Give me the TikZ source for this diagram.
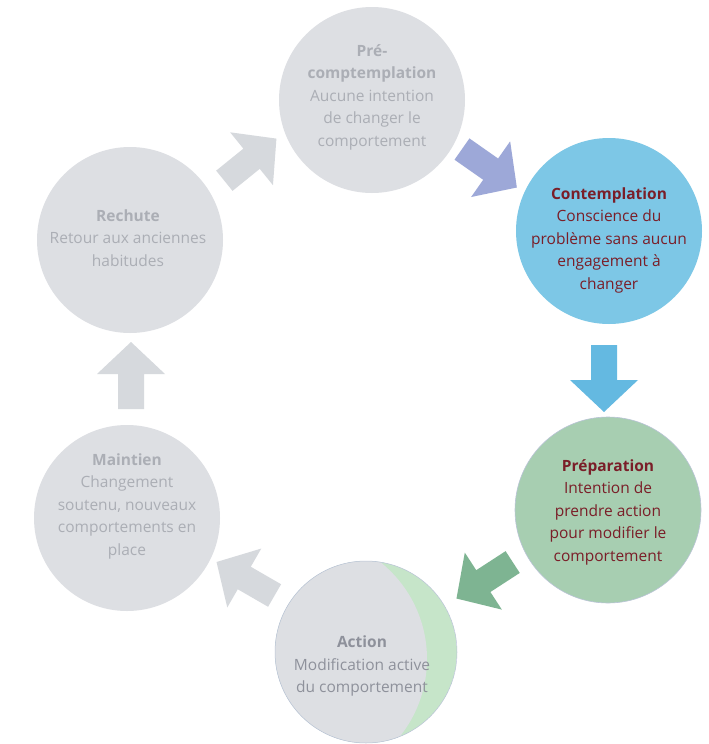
\documentclass[tikz,border=0pt]{standalone}
\usepackage{fontspec}
\setmainfont{Open Sans}
\definecolor{graycirc}{HTML}{DDDFE3}
\definecolor{grayarr}{HTML}{D6D9DD}
\definecolor{graytxt}{HTML}{ABAEB5}
\definecolor{actiontxt}{HTML}{8E919B}
\definecolor{bluefill}{HTML}{7DC7E6}
\definecolor{bluearr}{HTML}{64B9E1}
\definecolor{purplearr}{HTML}{9DA8D8}
\definecolor{greenfill}{HTML}{A7CEB1}
\definecolor{greenarr}{HTML}{7EB492}
\definecolor{crescent}{HTML}{C6E5C9}
\definecolor{darkred}{HTML}{7A1E28}
\definecolor{rimcol}{HTML}{B9C3D6}
\tikzset{
  stage/.style={circle, inner sep=0pt, minimum size=186pt},
  stagetext/.style={align=center, inner sep=0pt, font=\fontsize{15.5}{22.5}\selectfont}
}
\newcommand\blockarr[4]{%
  \fill[#4, shift={(#1,#2)}, rotate=#3]
    (-33,-13) -- (2,-13) -- (2,-34) -- (34,0) -- (2,34) -- (2,13) -- (-33,13) -- cycle;}
\begin{document}
\begin{tikzpicture}[x=1pt,y=-1pt]
\useasboundingbox (0,0) rectangle (709,744);
\fill[white] (0,0) rectangle (709,744);

% circles
\node[stage, fill=graycirc] (pre) at (372,100) {};
\node[stage, fill=bluefill] (cont) at (609,231) {};
\node[stage, fill=greenfill, draw=rimcol, line width=0.6pt] (prep) at (608,510) {};
\node[stage, minimum size=182pt] (act) at (366,652) {};
\node[stage, fill=graycirc] (maint) at (127,518) {};
\node[stage, fill=graycirc] (rech) at (130,240) {};

% action crescent
\begin{scope}
  \clip (act.center) circle (91pt);
  \fill[crescent] (act.center) circle (91pt);
  \fill[graycirc] (303,659) circle (124pt);
\end{scope}
\draw[rimcol, line width=0.5pt] (act.center) circle (91pt);

% arrows
\blockarr{250}{160}{39}{grayarr}
\blockarr{489}{168}{-35}{purplearr}
\blockarr{604}{378}{-90}{bluearr}
\blockarr{485}{580}{-147}{greenarr}
\blockarr{246}{579}{150}{grayarr}
\blockarr{131}{376}{90}{grayarr}

% texts
\node[stagetext, text=graytxt] (tpre) at (372,97)
  {\textbf{Pré-}\\\textbf{comptemplation}\\Aucune intention\\de changer le\\comportement};
\node[stagetext, text=darkred] (tcont) at (609,240)
  {\textbf{Contemplation}\\Conscience du\\problème sans aucun\\engagement à\\changer};
\node[stagetext, text=darkred] (tprep) at (608,512)
  {\textbf{Préparation}\\Intention de\\prendre action\\pour modifier le\\comportement};
\node[stagetext, text=actiontxt] (tact) at (362,666)
  {\textbf{Action}\\Modification active\\du comportement};
\node[stagetext, text=graytxt] (tmaint) at (127,506)
  {\textbf{Maintien}\\Changement\\soutenu, nouveaux\\comportements en\\place};
\node[stagetext, text=graytxt] (trech) at (128,238)
  {\textbf{Rechute}\\Retour aux anciennes\\habitudes};
\end{tikzpicture}
\end{document}
